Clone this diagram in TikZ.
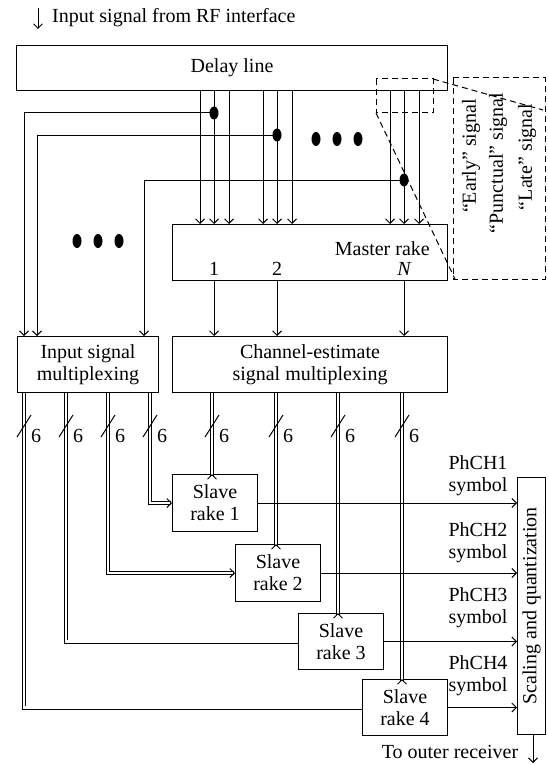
\documentclass[tikz,border=0pt]{standalone}
\usepackage{fontspec}
\setmainfont{Liberation Serif}
\usetikzlibrary{arrows.meta}
\begin{document}
\begin{tikzpicture}[x=1pt,y=-1pt,
  every node/.style={font=\fontsize{20}{22}\selectfont, inner sep=0pt},
  box/.style={draw, line width=1pt, anchor=north west, align=center},
  ln/.style={line width=1pt},
  arr/.style={ln, -{Straight Barb[length=4.5pt,width=9pt,line width=1pt]}},
  dbl/.style={line width=0.9pt, double, double distance=2.2pt, line join=miter},
  callout/.style={line width=1pt, dash pattern=on 6pt off 4pt},
  jdot/.style={fill=black}
]
\useasboundingbox (0,0) rectangle (547,765);

% ---- top input
\coordinate (ta) at (38,8);
\coordinate (tb) at (38,29);
\draw[arr] (ta) -- (tb);
\node[anchor=base west] (tin) at (52,23) {Input signal from RF interface};

% ---- boxes
\node[box, minimum width=431pt, minimum height=45pt] (dl) at (16,45) {Delay line};
\node[box, minimum width=275pt, minimum height=56pt] (mr) at (172,224) {};
\node[anchor=east] (mrt) at (430,249) {Master rake};
\node (m1) at (214,269) {1};
\node (m2) at (277,269) {2};
\node (mN) at (404,269) {\itshape N};
\node[box, minimum width=141pt, minimum height=56pt] (im) at (17,336) {Input signal\\multiplexing};
\node[box, minimum width=275pt, minimum height=56pt] (cm) at (172,336) {Channel-estimate\\signal multiplexing};
\node[box, minimum width=85pt, minimum height=57pt] (s1) at (172,474) {Slave\\rake 1};
\node[box, minimum width=85pt, minimum height=57pt] (s2) at (235,544) {Slave\\rake 2};
\node[box, minimum width=85pt, minimum height=56pt] (s3) at (298,613) {Slave\\rake 3};
\node[box, minimum width=85pt, minimum height=56pt] (s4) at (362,679) {Slave\\rake 4};
\node[box, minimum width=28pt, minimum height=257pt] (sq) at (517,477) {};
\node[rotate=90] (sqt) at (sq.center) {Scaling and quantization};

% ---- delay line taps into master rake
\foreach \x in {200,214,229,263,277,292,390,404,419}
  \draw[arr] (dl.south -| \x,0) -- (mr.north -| \x,0);

% ---- junction dots and feeds to input multiplexing
\coordinate (j1) at (214,113);
\coordinate (j2) at (277,135);
\coordinate (j3) at (404,180);
\coordinate (fa) at (24,0);
\coordinate (fb) at (37,0);
\coordinate (fc) at (144,0);
\draw[arr] (j1) -| (im.north -| fa);
\draw[arr] (j2) -| (im.north -| fb);
\draw[arr] (j3) -| (im.north -| fc);
\foreach \p in {j1,j2,j3}
  \fill[jdot] (\p) ellipse [x radius=4.5, y radius=6.5];

% ---- ellipsis dots
\foreach \x in {316,337,358}
  \fill (\x,139) ellipse [x radius=4.5, y radius=7];
\foreach \x in {77,98,119}
  \fill (\x,241) ellipse [x radius=4.5, y radius=7];

% ---- master rake to channel-estimate mux
\foreach \x in {214,277,404}
  \draw[arr] (mr.south -| \x,0) -- (cm.north -| \x,0);

% ---- callout
\draw[callout] (376,79) rectangle (433,113);
\draw[callout] (453,78) rectangle (545,279);
\draw[callout] (433,79) -- (543,110);
\draw[callout] (376,113) -- (455,279);
\node[rotate=90] (es) at (471,156) {“Early” signal};
\node[rotate=90] (ps) at (498,163) {“Punctual” signal};
\node[rotate=90] (ls) at (527,157) {“Late” signal};

% ---- 6-bit buses from input mux
\coordinate (ia) at (24,0);
\coordinate (ib) at (66,0);
\coordinate (ic) at (108,0);
\coordinate (id) at (150,0);
\draw[dbl] (im.south -| id) |- ([xshift=-1.5pt]s1.west);
\draw[arr] ([xshift=-2pt]s1.west) -- (s1.west);
\draw[dbl] (im.south -| ic) |- ([xshift=-1.5pt]s2.west);
\draw[arr] ([xshift=-2pt]s2.west) -- (s2.west);
\draw[dbl] (im.south -| ib) |- (s3.west);
\draw[dbl] (im.south -| ia) |- (s4.west);

% ---- 6-bit buses from channel-estimate mux
\coordinate (ca) at (212,0);
\coordinate (cb) at (276,0);
\coordinate (cc) at (338,0);
\coordinate (cd) at (402,0);
\draw[dbl] (cm.south -| ca) -- ([yshift=-1.5pt]s1.north -| ca);
\draw[arr] ([yshift=-2pt]s1.north -| ca) -- (s1.north -| ca);
\draw[dbl] (cm.south -| cb) -- ([yshift=-1.5pt]s2.north -| cb);
\draw[arr] ([yshift=-2pt]s2.north -| cb) -- (s2.north -| cb);
\draw[dbl] (cm.south -| cc) -- ([yshift=-1.5pt]s3.north -| cc);
\draw[arr] ([yshift=-2pt]s3.north -| cc) -- (s3.north -| cc);
\draw[dbl] (cm.south -| cd) -- ([yshift=-1.5pt]s4.north -| cd);
\draw[arr] ([yshift=-2pt]s4.north -| cd) -- (s4.north -| cd);

% ---- bus width marks
\foreach \x in {24,66,108,150,212,276,338,402} {
  \draw[ln] (\x-7,437) -- (\x+7,415);
  \node[anchor=west] at (\x+7,436) {6};
}

% ---- outputs to scaling
\draw[arr] (s1.east) -- (sq.west |- s1.east);
\draw[arr] (s2.east) -- (sq.west |- s2.east);
\draw[arr] (s3.east) -- (sq.west |- s3.east);
\draw[arr] (s4.east) -- (sq.west |- s4.east);
\node[align=center] (l1) at (478,476) {PhCH1\\symbol};
\node[align=center] (l2) at (478,543) {PhCH2\\symbol};
\node[align=center] (l3) at (478,608) {PhCH3\\symbol};
\node[align=center] (l4) at (478,676) {PhCH4\\symbol};

% ---- output
\coordinate (out) at (533,763);
\draw[arr] (sq.south -| out) -- (out);
\node (ort) at (450,752) {To outer receiver};
\end{tikzpicture}
\end{document}
